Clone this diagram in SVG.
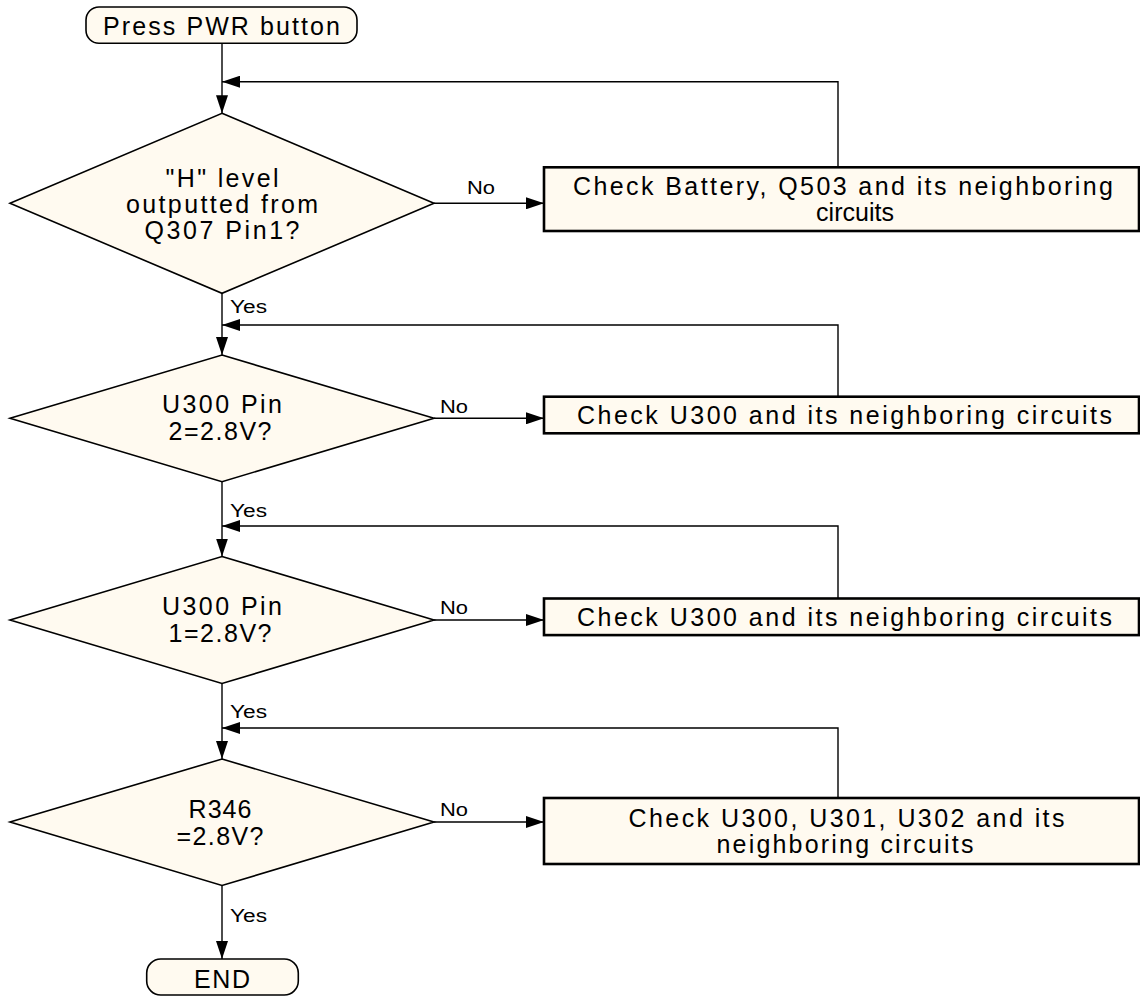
<svg xmlns="http://www.w3.org/2000/svg" width="1140" height="996" viewBox="0 0 1140 996">
<style>
.bg{fill:#ffffff}
.term{fill:#fffaf0;stroke:#000;stroke-width:1.6}
.dia{fill:#fffaf0;stroke:#000;stroke-width:1.6}
.box{fill:#fffaf0;stroke:#000;stroke-width:2.6}
.t{font-family:"Liberation Sans",Arial,sans-serif;font-size:25px;fill:#000;text-anchor:middle}
.lbl{font-family:"Liberation Sans",Arial,sans-serif;font-size:18px;fill:#000}
.c{fill:none;stroke:#000;stroke-width:1.4}
</style>
<defs>
<marker id="arr" markerUnits="userSpaceOnUse" markerWidth="18" markerHeight="12" refX="18" refY="6" orient="auto">
<path d="M0,0 L18,6 L0,12 Z" fill="#000"/>
</marker>
</defs>
<rect class="bg" x="0" y="0" width="1140" height="996"/>
<g id="connectors">
<path class="c" d="M222,43.3 L222,113.3" marker-end="url(#arr)"/>
<path class="c" d="M838,167.3 L838,81.7 L222,81.7" marker-end="url(#arr)"/>
<path class="c" d="M434,203.3 L544,203.3" marker-end="url(#arr)"/>
<path class="c" d="M222,293.3 L222,355" marker-end="url(#arr)"/>
<path class="c" d="M838,396.7 L838,325 L222,325" marker-end="url(#arr)"/>
<path class="c" d="M434,418.3 L544,418.3" marker-end="url(#arr)"/>
<path class="c" d="M222,481.7 L222,556.5" marker-end="url(#arr)"/>
<path class="c" d="M838,598.5 L838,526 L222,526" marker-end="url(#arr)"/>
<path class="c" d="M434,620 L544,620" marker-end="url(#arr)"/>
<path class="c" d="M222,683.5 L222,759" marker-end="url(#arr)"/>
<path class="c" d="M838,798 L838,728 L222,728" marker-end="url(#arr)"/>
<path class="c" d="M434,822 L544,822" marker-end="url(#arr)"/>
<path class="c" d="M222,885.5 L222,959" marker-end="url(#arr)"/>
<text class="lbl" x="467" y="194" textLength="28" lengthAdjust="spacingAndGlyphs">No</text>
<text class="lbl" x="440" y="412.7" textLength="28" lengthAdjust="spacingAndGlyphs">No</text>
<text class="lbl" x="440" y="614" textLength="28" lengthAdjust="spacingAndGlyphs">No</text>
<text class="lbl" x="440" y="816" textLength="28" lengthAdjust="spacingAndGlyphs">No</text>
<text class="lbl" x="230" y="312.7" textLength="37" lengthAdjust="spacingAndGlyphs">Yes</text>
<text class="lbl" x="230" y="516.7" textLength="37" lengthAdjust="spacingAndGlyphs">Yes</text>
<text class="lbl" x="230" y="718" textLength="37" lengthAdjust="spacingAndGlyphs">Yes</text>
<text class="lbl" x="230" y="921.7" textLength="37" lengthAdjust="spacingAndGlyphs">Yes</text>
</g>
<g id="start">
<rect class="term" x="86" y="7" width="271" height="36.3" rx="13" ry="13"/>
<text class="t" x="221.5" y="35" textLength="237" lengthAdjust="spacing">Press PWR button</text>
</g>
<g id="d1">
<polygon class="dia" points="222,113.3 434,203.3 222,293.3 10,203.3"/>
<text class="t" x="222" y="187" textLength="113" lengthAdjust="spacing">"H" level</text>
<text class="t" x="222" y="212.7" textLength="192" lengthAdjust="spacing">outputted from</text>
<text class="t" x="222" y="239.3" textLength="155" lengthAdjust="spacing">Q307 Pin1?</text>
</g>
<g id="b1">
<rect class="box" x="544" y="167.3" width="595" height="63.7"/>
<text class="t" x="843" y="195" textLength="540" lengthAdjust="spacing">Check Battery, Q503 and its neighboring</text>
<text class="t" x="855" y="221">circuits</text>
</g>
<g id="d2">
<polygon class="dia" points="222,355 434,418.3 222,481.7 10,418.3"/>
<text class="t" x="222" y="413.3" textLength="120" lengthAdjust="spacing">U300 Pin</text>
<text class="t" x="220" y="440" textLength="103" lengthAdjust="spacing">2=2.8V?</text>
</g>
<g id="b2">
<rect class="box" x="544" y="396.7" width="595" height="36.6"/>
<text class="t" x="844.5" y="424" textLength="535" lengthAdjust="spacing">Check U300 and its neighboring circuits</text>
</g>
<g id="d3">
<polygon class="dia" points="222,556.5 434,620 222,683.5 10,620"/>
<text class="t" x="222" y="615" textLength="120" lengthAdjust="spacing">U300 Pin</text>
<text class="t" x="220" y="641.7" textLength="103" lengthAdjust="spacing">1=2.8V?</text>
</g>
<g id="b3">
<rect class="box" x="544" y="598.5" width="595" height="36.6"/>
<text class="t" x="844.5" y="626" textLength="535" lengthAdjust="spacing">Check U300 and its neighboring circuits</text>
</g>
<g id="d4">
<polygon class="dia" points="222,759 434,822 222,885.5 10,822"/>
<text class="t" x="220" y="818.3" textLength="63" lengthAdjust="spacing">R346</text>
<text class="t" x="220" y="845" textLength="87" lengthAdjust="spacing">=2.8V?</text>
</g>
<g id="b4">
<rect class="box" x="544" y="798" width="595" height="66"/>
<text class="t" x="846.5" y="827" textLength="436" lengthAdjust="spacing">Check U300, U301, U302 and its</text>
<text class="t" x="845" y="853" textLength="257" lengthAdjust="spacing">neighboring circuits</text>
</g>
<g id="end">
<rect class="term" x="146.7" y="959" width="151.6" height="36" rx="14" ry="14"/>
<text class="t" x="222" y="988" textLength="56" lengthAdjust="spacing">END</text>
</g>
</svg>
